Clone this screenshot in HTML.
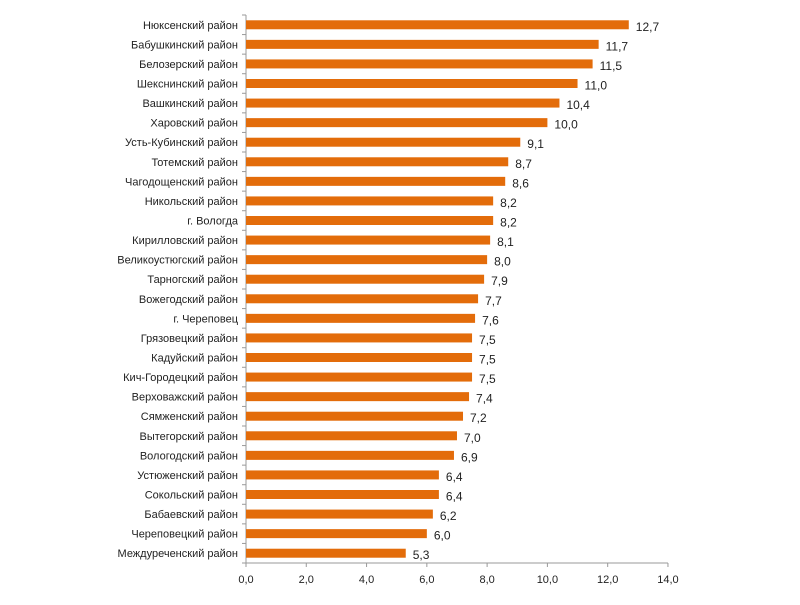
<!DOCTYPE html>
<html><head><meta charset="utf-8"><style>
body{margin:0;background:#fff;}
svg text{font-family:"Liberation Sans",sans-serif;font-size:11px;fill:#222;}
</style></head><body>
<svg width="800" height="600" xmlns="http://www.w3.org/2000/svg">
<g id="g"></g>
</svg>
<script>
(function(){
const d=[["Нюксенский район",12.7],["Бабушкинский район",11.7],["Белозерский район",11.5],["Шекснинский район",11.0],["Вашкинский район",10.4],["Харовский район",10.0],["Усть-Кубинский район",9.1],["Тотемский район",8.7],["Чагодощенский  район",8.6],["Никольский район",8.2],["г. Вологда",8.2],["Кирилловский район",8.1],["Великоустюгский район",8.0],["Тарногский район",7.9],["Вожегодский район",7.7],["г. Череповец",7.6],["Грязовецкий район",7.5],["Кадуйский район",7.5],["Кич-Городецкий район",7.5],["Верховажский район",7.4],["Сямженский район",7.2],["Вытегорский район",7.0],["Вологодский район",6.9],["Устюженский район",6.4],["Сокольский район",6.4],["Бабаевский район",6.2],["Череповецкий район",6.0],["Междуреченский  район",5.3]];
var x0=246,k=30.14,t0=15,base=563,step=(base-t0)/28;
var s='<line x1="'+x0+'" y1="'+t0+'" x2="'+x0+'" y2="'+base+'" stroke="#999"/><line x1="'+x0+'" y1="'+base+'" x2="'+(x0+14*k)+'" y2="'+base+'" stroke="#999"/>';
for(var i=0;i<=28;i++){var y=t0+i*step;s+='<line x1="'+(x0-4)+'" y1="'+y+'" x2="'+x0+'" y2="'+y+'" stroke="#999"/>';}
for(var v=0;v<=14;v+=2){var x=x0+v*k;s+='<line x1="'+x+'" y1="'+base+'" x2="'+x+'" y2="'+(base+4)+'" stroke="#999"/><text x="'+x+'" y="'+(base+20)+'" text-anchor="middle">'+v.toFixed(1).replace('.',',')+'</text>';}
d.forEach(function(r,i){var c=t0+(i+0.5)*step;var w=r[1]*k;
s+='<rect x="'+x0+'" y="'+(c-4.5)+'" width="'+w+'" height="9" fill="#e36c0a"/>';
s+='<text x="'+(x0-8)+'" y="'+(c+4)+'" text-anchor="end">'+r[0]+'</text>';
s+='<text x="'+(x0+w+7)+'" y="'+(c+6)+'" style="font-size:12px">'+r[1].toFixed(1).replace('.',',')+'</text>';});
document.getElementById('g').innerHTML=s;
})();
</script>
</body></html>
